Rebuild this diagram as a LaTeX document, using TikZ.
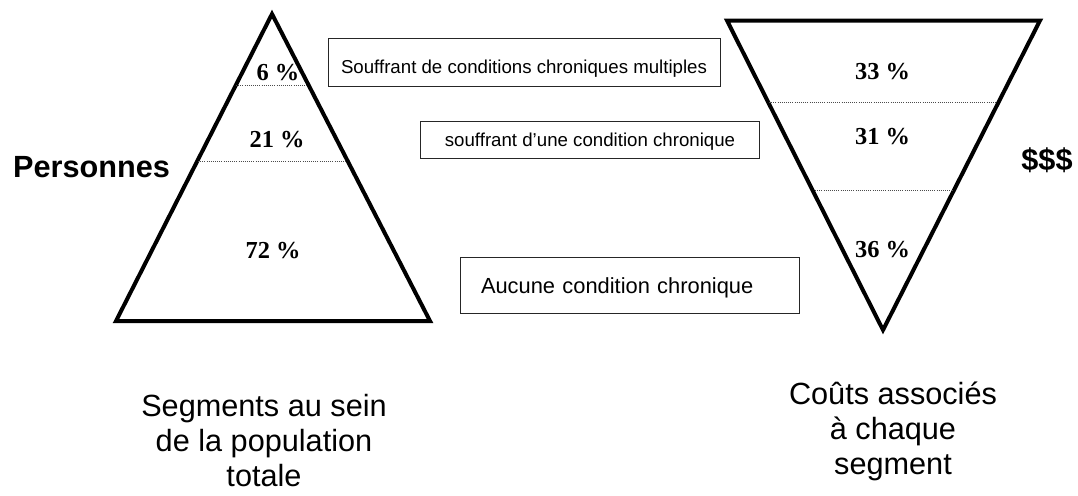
\documentclass[tikz,border=0pt]{standalone}
\usepackage{fontspec}
\setmainfont{Liberation Sans}
\newfontfamily\pctfont{Liberation Serif}

\tikzset{
  pyramid/.style={line width=3pt, line join=miter},
  divider/.style={densely dotted, line width=0.6pt, black!70},
  labelbox/.style={draw=black!85, line width=0.75pt, inner sep=0pt,
    font=\fontsize{14}{16}\selectfont},
  pct/.style={font=\pctfont\bfseries\fontsize{18.3}{20}\selectfont, anchor=base, inner sep=0pt},
  sidelabel/.style={font=\bfseries\fontsize{23}{26}\selectfont, anchor=base, inner sep=0pt},
  caption/.style={font=\fontsize{23}{26.25}\selectfont, align=center, anchor=north, inner sep=0pt}
}

\begin{document}
\begin{tikzpicture}[x=0.75pt, y=-0.75pt]
  \useasboundingbox (0,0) rectangle (1078,496);

  % population pyramid
  \coordinate (LA) at (272,14);
  \coordinate (LB) at (116,321);
  \coordinate (LC) at (430,321);
  \draw[pyramid] (LA) -- (LB) -- (LC) -- cycle;
  \coordinate (L1a) at (236,85);  \coordinate (L1b) at (308,85);
  \coordinate (L2a) at (198,161); \coordinate (L2b) at (347,161);
  \draw[divider] (L1a) -- (L1b);
  \draw[divider] (L2a) -- (L2b);

  % cost pyramid (inverted)
  \coordinate (RA) at (727,20.5);
  \coordinate (RB) at (1040,20.5);
  \coordinate (RC) at (883,330);
  \draw[pyramid] (RA) -- (RB) -- (RC) -- cycle;
  \coordinate (R1a) at (769,102); \coordinate (R1b) at (996,102);
  \coordinate (R2a) at (815,190); \coordinate (R2b) at (953,190);
  \draw[divider] (R1a) -- (R1b);
  \draw[divider] (R2a) -- (R2b);

  % shares
  \node[pct] (p6)  at (278,80)  {6 \%};
  \node[pct] (p21) at (277,147) {21 \%};
  \node[pct] (p72) at (273,258) {72 \%};
  \node[pct] (c33) at (882.5,79)  {33 \%};
  \node[pct] (c31) at (882.5,144) {31 \%};
  \node[pct] (c36) at (882.5,257) {36 \%};

  % side labels
  \node[sidelabel] (persons) at (91.5,177.7) {Personnes};
  \node[sidelabel] (money) at (1047,170) {\$\$\$};

  % segment descriptions
  \node[labelbox, minimum width=294pt, minimum height=36pt,
        text height=16.5pt, text depth=0pt] (multi) at (524,62)
        {Souffrant de conditions chroniques multiples};
  \node[labelbox, minimum width=254.25pt, minimum height=27.75pt,
        text height=10.8pt, text depth=0pt] (single) at (590,139.5)
        {souffrant d’une condition chronique};
  \node[labelbox, font=\fontsize{16.4}{18}\selectfont, text width=222.75pt,
        align=left, inner xsep=15.75pt, minimum height=42pt,
        text height=12.5pt, text depth=0pt] (none) at (629.5,285)
        {Aucune condition chronique};

  % captions
  \node[caption] (segcap) at (264,394.5) {Segments au sein\\de la population\\totale};
  \node[caption] (costcap) at (893,382) {Coûts associés\\à chaque\\segment};
\end{tikzpicture}
\end{document}
